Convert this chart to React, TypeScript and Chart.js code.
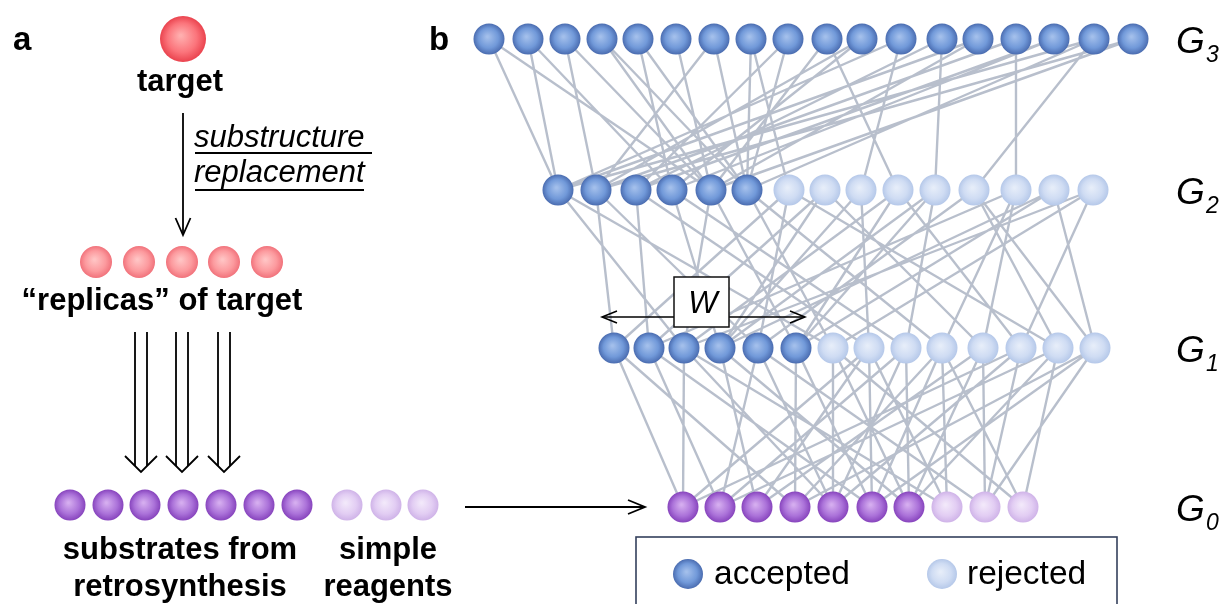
import React, { useEffect, useRef } from "react";
import { Chart, registerables } from "chart.js";

Chart.register(...registerables);

// ---------- data ----------
// panel a
const targetX = [183];
const replicasX = [96, 139, 182, 224, 267];
const substratesX = [70, 108, 145, 183, 221, 259, 297];
const reagentsX = [347, 386, 423];

// panel b layers (accepted / rejected nodes)
const g3Accepted = [489, 528, 565, 602, 638, 676, 714, 751, 788, 827, 862, 901, 942, 978, 1016, 1054, 1094, 1133];
const g2Accepted = [558, 596, 636, 672, 711, 747];
const g2Rejected = [789, 825, 861, 898, 935, 974, 1016, 1054, 1093];
const g1Accepted = [614, 649, 684, 720, 758, 796];
const g1Rejected = [833, 869, 906, 942, 983, 1021, 1058, 1095];
const g0Substrates = [683, 720, 757, 795, 833, 872, 909];
const g0Reagents = [947, 985, 1023];

// connections [upper node index, lower node index]
const edgesG3G2 = [
  [0, 0], [0, 4], [1, 0], [1, 3], [2, 1], [2, 4], [3, 4], [3, 5], [4, 3], [4, 5], [5, 4], [6, 1],
  [6, 5], [7, 5], [7, 6], [8, 2], [8, 5], [9, 4], [9, 9], [10, 1], [10, 3], [11, 0], [11, 8], [12, 2],
  [12, 10], [13, 0], [13, 4], [14, 1], [14, 12], [15, 2], [15, 3], [16, 0], [16, 5], [16, 11], [17, 1], [17, 4],
];
const edgesG2G1 = [
  [0, 2], [0, 6], [1, 0], [1, 4], [2, 1], [2, 7], [3, 3], [3, 8], [4, 2], [4, 5], [5, 6], [5, 9],
  [6, 0], [6, 4], [7, 1], [7, 10], [8, 3], [8, 7], [9, 2], [9, 11], [10, 5], [10, 8], [11, 4], [11, 12],
  [12, 1], [12, 9], [13, 3], [13, 5], [13, 13], [14, 2], [14, 6], [14, 11], [6, 12], [7, 3], [9, 5],
  [11, 13], [12, 10], [10, 3],
];
const edgesG1G0 = [
  [0, 0], [0, 3], [1, 1], [1, 5], [2, 0], [2, 4], [2, 7], [3, 2], [3, 6], [4, 1], [4, 4], [4, 8],
  [5, 3], [5, 5], [6, 4], [6, 9], [7, 0], [7, 5], [7, 2], [8, 4], [8, 6], [8, 1], [9, 5], [9, 3],
  [9, 7], [10, 6], [10, 2], [10, 8], [11, 4], [11, 0], [12, 6], [12, 1], [13, 5], [13, 3], [13, 8],
  [6, 6], [7, 7], [9, 9], [12, 9], [11, 8],
];

// text
const panelLetters = ["a", "b"];
const leftLabels = ["target", "\u201creplicas\u201d of target", "substrates from", "retrosynthesis", "simple", "reagents"];
const arrowLabels = ["substructure", "replacement"];
const layerNames = ["G", "G", "G", "G"];
const layerSubs = ["3", "2", "1", "0"];
const legendLabels = ["accepted", "rejected"];
const windowLabel = "W";

// ---------- layout (pixel-like data units) ----------
const W = 1223;
const H = 604;
const layerY = { g3: 39, g2: 190, g1: 348, g0: 507 };
const leftY = { target: 39, replicas: 262, substrates: 505 };
const FONT = "'Liberation Sans', Arial, Helvetica, sans-serif";

type Palette = [string, string, string];
const BLUE: Palette = ["#a3bfeb", "#7199d9", "#4a6cb0"];
const PALE: Palette = ["#e6edf9", "#cfdcf3", "#b5c8e9"];
const PURPLE: Palette = ["#d5adef", "#ab72d9", "#8744bd"];
const LILAC: Palette = ["#f2e8fa", "#e2cdf3", "#cfb3e8"];
const PINK: Palette = ["#ffc4c4", "#fc9a9e", "#f1727b"];
const RED: Palette = ["#ffaeae", "#fb747b", "#ea434e"];

function sphereFill(ctx: CanvasRenderingContext2D, px: number, py: number, r: number, p: Palette) {
  const g = ctx.createRadialGradient(px - r * 0.1, py - r * 0.15, r * 0.05, px, py, r);
  g.addColorStop(0, p[0]);
  g.addColorStop(0.62, p[1]);
  g.addColorStop(1, p[2]);
  return g;
}

function sphereDataset(xs: number[], y: number, r: number, p: Palette) {
  return {
    type: "scatter" as const,
    data: xs.map((x) => ({ x, y })),
    pointRadius: r,
    pointHoverRadius: r,
    pointBorderWidth: 0,
    pointBorderColor: "rgba(0,0,0,0)",
    backgroundColor: (c: any) => {
      const chart = c.chart;
      if (c.type !== "data" || !chart.scales || !chart.scales.x) return p[1];
      const px = chart.scales.x.getPixelForValue(c.raw.x);
      const py = chart.scales.y.getPixelForValue(c.raw.y);
      if (!isFinite(px) || !isFinite(py)) return p[1];
      return sphereFill(chart.ctx, px, py, r, p);
    },
    order: 0,
  };
}

function edgeDataset(upperX: number[], upperY: number, lowerX: number[], lowerY: number, edges: number[][]) {
  const pts: any[] = [];
  edges.forEach(([a, b]) => {
    pts.push({ x: upperX[a], y: upperY });
    pts.push({ x: lowerX[b], y: lowerY });
    pts.push({ x: lowerX[b], y: null });
  });
  return {
    type: "scatter" as const,
    data: pts,
    showLine: true,
    spanGaps: false,
    borderColor: "rgba(178,186,200,0.92)",
    borderWidth: 2.4,
    pointRadius: 0,
    pointHoverRadius: 0,
    order: 10,
  };
}

function openHead(ctx: CanvasRenderingContext2D, tx: number, ty: number, dx: number, dy: number, len: number, half: number) {
  const n = Math.hypot(dx, dy);
  const ux = dx / n, uy = dy / n;
  const bx = tx - ux * len, by = ty - uy * len;
  ctx.beginPath();
  ctx.moveTo(bx - uy * half, by + ux * half);
  ctx.lineTo(tx, ty);
  ctx.lineTo(bx + uy * half, by - ux * half);
  ctx.stroke();
}

const overlay = {
  id: "overlay",
  afterDatasetsDraw(chart: any) {
    const ctx: CanvasRenderingContext2D = chart.ctx;
    const X = (v: number) => chart.scales.x.getPixelForValue(v);
    const Y = (v: number) => chart.scales.y.getPixelForValue(v);
    ctx.save();
    ctx.fillStyle = "#000";
    ctx.strokeStyle = "#000";
    ctx.textBaseline = "alphabetic";

    // panel letters
    ctx.font = `bold 33px ${FONT}`;
    ctx.textAlign = "left";
    ctx.fillText(panelLetters[0], X(13), Y(50));
    ctx.fillText(panelLetters[1], X(429), Y(50));

    // left labels
    ctx.font = `bold 31px ${FONT}`;
    ctx.textAlign = "center";
    ctx.fillText(leftLabels[0], X(180), Y(91));
    ctx.fillText(leftLabels[1], X(162), Y(310));
    ctx.fillText(leftLabels[2], X(180), Y(559));
    ctx.fillText(leftLabels[3], X(180), Y(596));
    ctx.fillText(leftLabels[4], X(388), Y(559));
    ctx.fillText(leftLabels[5], X(388), Y(596));

    // substructure replacement arrow
    ctx.lineWidth = 1.8;
    ctx.beginPath();
    ctx.moveTo(X(183), Y(113));
    ctx.lineTo(X(183), Y(234));
    ctx.stroke();
    openHead(ctx, X(183), Y(235), 0, 1, 17, 7.5);

    ctx.font = `italic 31px ${FONT}`;
    ctx.textAlign = "left";
    ctx.fillText(arrowLabels[0], X(194), Y(147));
    ctx.fillText(arrowLabels[1], X(194), Y(182));
    ctx.lineWidth = 1.8;
    ctx.beginPath();
    ctx.moveTo(X(195), Y(153));
    ctx.lineTo(X(372), Y(153));
    ctx.moveTo(X(195), Y(190));
    ctx.lineTo(X(364), Y(190));
    ctx.stroke();

    // triple double arrows
    ctx.lineWidth = 1.8;
    [141, 182, 224].forEach((cx) => {
      ctx.beginPath();
      ctx.moveTo(X(cx - 6), Y(332));
      ctx.lineTo(X(cx - 6), Y(466));
      ctx.moveTo(X(cx + 6), Y(332));
      ctx.lineTo(X(cx + 6), Y(466));
      ctx.stroke();
      ctx.beginPath();
      ctx.moveTo(X(cx - 16), Y(456));
      ctx.lineTo(X(cx), Y(472));
      ctx.lineTo(X(cx + 16), Y(456));
      ctx.stroke();
    });

    // horizontal arrow to G0
    ctx.lineWidth = 1.8;
    ctx.beginPath();
    ctx.moveTo(X(465), Y(507));
    ctx.lineTo(X(644), Y(507));
    ctx.stroke();
    openHead(ctx, X(645), Y(507), 1, 0, 17, 7);

    // W window
    ctx.lineWidth = 1.5;
    ctx.beginPath();
    ctx.moveTo(X(603), Y(317));
    ctx.lineTo(X(804), Y(317));
    ctx.stroke();
    openHead(ctx, X(602), Y(317), -1, 0, 15, 6);
    openHead(ctx, X(805), Y(317), 1, 0, 15, 6);
    ctx.fillStyle = "#fff";
    ctx.fillRect(X(674), Y(277), X(729) - X(674), Y(327) - Y(277));
    ctx.strokeStyle = "#111";
    ctx.lineWidth = 1.5;
    ctx.strokeRect(X(674), Y(277), X(729) - X(674), Y(327) - Y(277));
    ctx.fillStyle = "#000";
    ctx.font = `italic 31px ${FONT}`;
    ctx.textAlign = "center";
    ctx.fillText(windowLabel, X(703), Y(313));

    // layer labels
    const ys = [layerY.g3, layerY.g2, layerY.g1, layerY.g0];
    ys.forEach((ly, i) => {
      ctx.textAlign = "left";
      ctx.font = `italic 37px ${FONT}`;
      ctx.fillText(layerNames[i], X(1176), Y(ly + 14));
      ctx.font = `italic 23px ${FONT}`;
      ctx.fillText(layerSubs[i], X(1206), Y(ly + 23));
    });

    // legend box
    ctx.strokeStyle = "#34405c";
    ctx.lineWidth = 1.6;
    ctx.strokeRect(X(636), Y(537), X(1117) - X(636), Y(620) - Y(537));
    const mk = (cx: number, p: Palette) => {
      ctx.beginPath();
      ctx.fillStyle = sphereFill(ctx, X(cx), Y(574), 15, p);
      ctx.arc(X(cx), Y(574), 15, 0, Math.PI * 2);
      ctx.fill();
    };
    mk(688, BLUE);
    mk(942, PALE);
    ctx.fillStyle = "#000";
    ctx.font = `33.5px ${FONT}`;
    ctx.textAlign = "left";
    ctx.fillText(legendLabels[0], X(714), Y(584));
    ctx.fillText(legendLabels[1], X(967), Y(584));

    ctx.restore();
  },
};

export default function App() {
  const ref = useRef<HTMLCanvasElement | null>(null);
  useEffect(() => {
    document.body.style.margin = "0";
    const canvas = ref.current;
    if (!canvas) return;
    const g2All = g2Accepted.concat(g2Rejected);
    const g1All = g1Accepted.concat(g1Rejected);
    const g0All = g0Substrates.concat(g0Reagents);
    const chart = new Chart(canvas, {
      type: "scatter",
      data: {
        datasets: [
          edgeDataset(g3Accepted, layerY.g3, g2All, layerY.g2, edgesG3G2),
          edgeDataset(g2All, layerY.g2, g1All, layerY.g1, edgesG2G1),
          edgeDataset(g1All, layerY.g1, g0All, layerY.g0, edgesG1G0),
          sphereDataset(g3Accepted, layerY.g3, 15.5, BLUE),
          sphereDataset(g2Accepted, layerY.g2, 15.5, BLUE),
          sphereDataset(g2Rejected, layerY.g2, 15.5, PALE),
          sphereDataset(g1Accepted, layerY.g1, 15.5, BLUE),
          sphereDataset(g1Rejected, layerY.g1, 15.5, PALE),
          sphereDataset(g0Substrates, layerY.g0, 15.5, PURPLE),
          sphereDataset(g0Reagents, layerY.g0, 15.5, LILAC),
          sphereDataset(targetX, leftY.target, 23, RED),
          sphereDataset(replicasX, leftY.replicas, 16, PINK),
          sphereDataset(substratesX, leftY.substrates, 15.5, PURPLE),
          sphereDataset(reagentsX, leftY.substrates, 15.5, LILAC),
        ] as any,
      },
      options: {
        animation: false,
        responsive: true,
        maintainAspectRatio: false,
        events: [],
        layout: { padding: 0, autoPadding: false },
        plugins: { legend: { display: false }, tooltip: { enabled: false }, title: { display: false } },
        scales: {
          x: { type: "linear", min: 0, max: W, display: false },
          y: { type: "linear", min: 0, max: H, reverse: true, display: false },
        },
      },
      plugins: [overlay],
    });
    return () => chart.destroy();
  }, []);
  return (
    <div style={{ position: "relative", width: W, height: H, background: "#fff" }}>
      <canvas ref={ref} />
    </div>
  );
}
